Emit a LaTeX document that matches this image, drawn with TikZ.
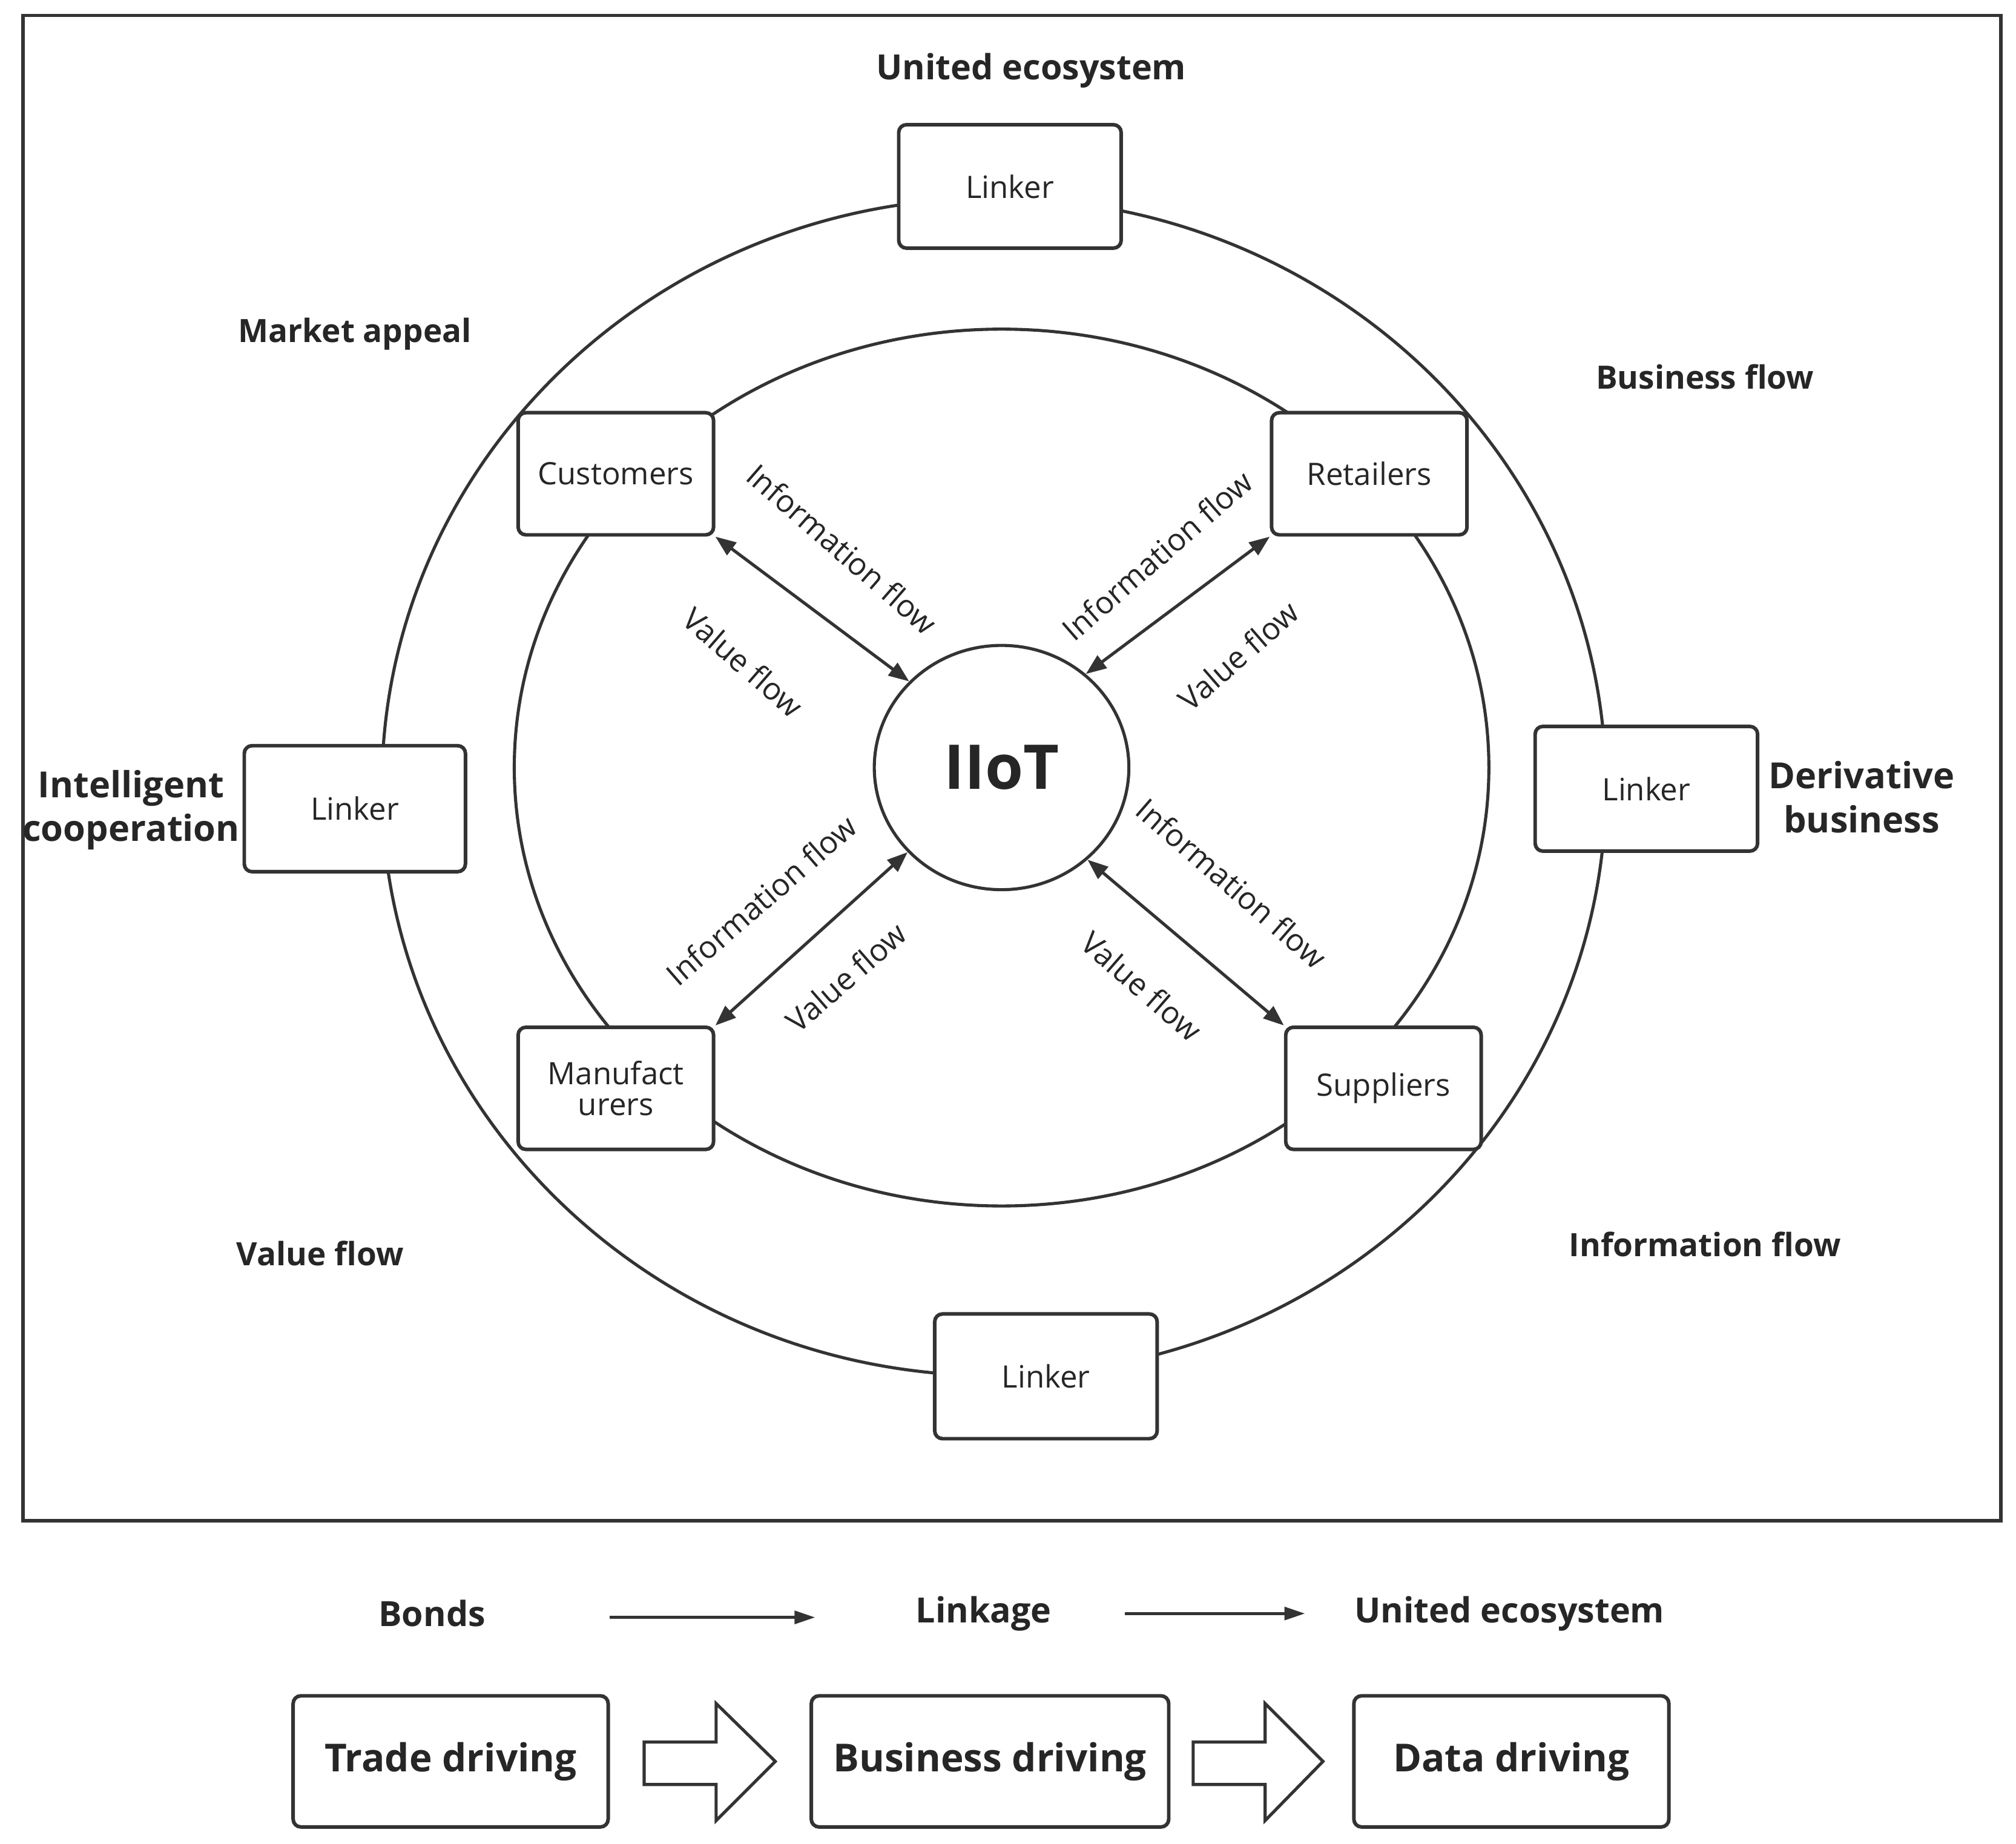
\documentclass[tikz,border=0pt]{standalone}
\usepackage{fontspec}
\setmainfont{Open Sans}
\usetikzlibrary{shapes.geometric,arrows.meta}
\begin{document}
\begin{tikzpicture}[x=0.5pt,y=-0.5pt,
  line width=1.2pt, draw=black!80, text=black!85,
  box/.style={draw, rounded corners=3pt, fill=white, line width=1.4pt, font=\fontsize{12}{14}\selectfont, align=center, inner sep=0pt},
  lab/.style={font=\bfseries\fontsize{12.5}{15}\selectfont, align=center},
  flow/.style={font=\fontsize{12}{14}\selectfont},
  big/.style={draw, rounded corners=3pt, line width=1.4pt, font=\bfseries\fontsize{15}{18}\selectfont, minimum height=51pt, inner sep=0pt},
  dbl/.style={{Triangle[length=8pt,width=6pt]}-{Triangle[length=8pt,width=6pt]}, line width=1.2pt},
  sarr/.style={-{Triangle[length=8pt,width=5pt]}, line width=1.2pt},
  barrow/.style={draw, line width=1.2pt, line join=miter}]
\useasboundingbox (0,0) rectangle (1568,1434);
\draw[line width=1.4pt] (18,12) rectangle (1556,1183);
\draw (773,612) ellipse [x radius=476, y radius=458];
\draw (779,597) ellipse [x radius=379, y radius=341];
\node[draw, ellipse, minimum width=198pt*0.5, minimum height=190pt*0.5, fill=white, font=\bfseries\fontsize{24}{26}\selectfont] (iiot) at (779,597) {IIoT};
\node[box, minimum width=86.5pt, minimum height=48pt] (lt) at (785.5,145) {Linker};
\node[box, minimum width=86pt, minimum height=49pt] (ll) at (276,629) {Linker};
\node[box, minimum width=86.5pt, minimum height=48.5pt] (lr) at (1280.5,613.5) {Linker};
\node[box, minimum width=86.5pt, minimum height=48.5pt] (lb) at (813.5,1070.5) {Linker};
\node[box, minimum width=76pt, minimum height=47.5pt] (cu) at (479,368.5) {Customers};
\node[box, minimum width=76pt, minimum height=47.5pt] (re) at (1065,368.5) {Retailers};
\node[box, minimum width=76pt, minimum height=47.5pt] (ma) at (479,846.5) {Manufact\\[-2pt]urers};
\node[box, minimum width=76pt, minimum height=47.5pt] (su) at (1076,846.5) {Suppliers};
\draw[dbl] (cu.south east) -- (iiot.137);
\draw[dbl] (re.south west) -- (iiot.48);
\draw[dbl] (ma.north east) -- (iiot.222);
\draw[dbl] (su.north west) -- (iiot.313);
\node[flow, rotate=-41] (f1) at (655,427) {Information flow};
\node[flow, rotate=-41] (f2) at (578,515) {Value flow};
\node[flow, rotate=41] (f3) at (900,432) {Information flow};
\node[flow, rotate=41] (f4) at (963,510) {Value flow};
\node[flow, rotate=41] (f5) at (592,700) {Information flow};
\node[flow, rotate=41] (f6) at (658,760) {Value flow};
\node[flow, rotate=-41] (f7) at (958,687) {Information flow};
\node[flow, rotate=-41] (f8) at (888,767) {Value flow};
\node[lab, font=\bfseries\fontsize{13.5}{16}\selectfont] (l1) at (802,55) {United ecosystem};
\node[lab] (l2) at (276,260) {Market appeal};
\node[lab] (l3) at (1326,293) {Business flow};
\node[lab, font=\bfseries\fontsize{14}{17}\selectfont] (l4) at (102,630) {Intelligent\\cooperation};
\node[lab, font=\bfseries\fontsize{14}{17}\selectfont] (l5) at (1448,620) {Derivative\\business};
\node[lab] (l6) at (249,975) {Value flow};
\node[lab] (l7) at (1326,968) {Information flow};
\node[lab, font=\bfseries\fontsize{13.5}{16}\selectfont] (b1) at (336,1255) {Bonds};
\node[lab, font=\bfseries\fontsize{13.5}{16}\selectfont] (b2) at (765,1255) {Linkage};
\node[lab, font=\bfseries\fontsize{13.5}{16}\selectfont] (b3) at (1174,1255) {United ecosystem};
\coordinate (a1s) at (474,1258); \coordinate (a1e) at (634,1258);
\coordinate (a2s) at (875,1255); \coordinate (a2e) at (1015,1255);
\draw[sarr] (a1s) -- (a1e);
\draw[sarr] (a2s) -- (a2e);
\node[big, minimum width=122.5pt] (t1) at (350.5,1370) {Trade driving};
\node[big, minimum width=139pt] (t2) at (770,1370) {Business driving};
\node[big, minimum width=122.5pt] (t3) at (1175.5,1370) {Data driving};
\draw[barrow] (501,1355) -- (557,1355) -- (557,1325) -- (603,1370) -- (557,1416) -- (557,1388) -- (501,1388) -- cycle;
\draw[barrow] (928,1355) -- (984,1355) -- (984,1325) -- (1029,1370) -- (984,1416) -- (984,1388) -- (928,1388) -- cycle;
\end{tikzpicture}
\end{document}
